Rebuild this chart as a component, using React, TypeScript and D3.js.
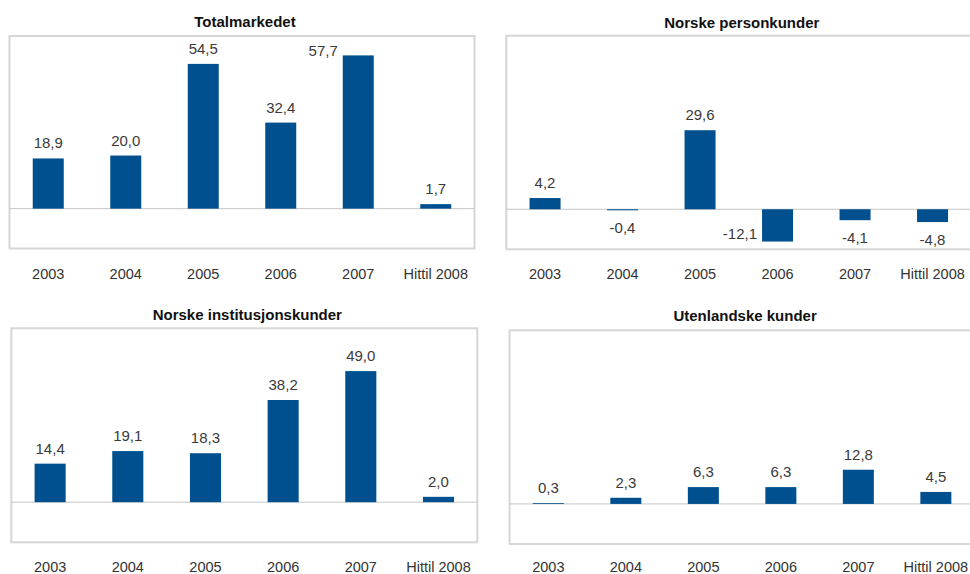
import React from "react";
import * as d3 from "d3";

const categories = ["2003", "2004", "2005", "2006", "2007", "Hittil 2008"];
const titles = ["Totalmarkedet", "Norske personkunder", "Norske institusjonskunder", "Utenlandske kunder"];
const totalmarkedet = [18.9, 20.0, 54.5, 32.4, 57.7, 1.7];
const personkunder = [4.2, -0.4, 29.6, -12.1, -4.1, -4.8];
const institusjonskunder = [14.4, 19.1, 18.3, 38.2, 49.0, 2.0];
const utenlandske = [0.3, 2.3, 6.3, 6.3, 12.8, 4.5];
const yDomain = [-15, 65];

const seriesList = [totalmarkedet, personkunder, institusjonskunder, utenlandske];

// panel layout boxes (plot frames)
const frames = [
  { left: 9.5, top: 36, width: 465, height: 212.5, titleY: 26.5 },
  { left: 506.3, top: 35.7, width: 465, height: 213.6, titleY: 27.5 },
  { left: 11.3, top: 328.3, width: 466, height: 214, titleY: 320 },
  { left: 509.6, top: 330.3, width: 465, height: 213.7, titleY: 321 },
];

const FONT = "'Liberation Sans', Arial, Helvetica, sans-serif";
const BAR = "#00508f";

const fmt = (v: number) => v.toFixed(1).replace(".", ",");

function Panel({ idx }: { idx: number }) {
  const f = frames[idx];
  const values = seriesList[idx];
  const x = d3
    .scaleBand<string>()
    .domain(categories)
    .range([f.left, f.left + f.width])
    .paddingInner(0.6)
    .paddingOuter(0.3);
  const y = d3.scaleLinear().domain(yDomain).range([f.top + f.height, f.top]);
  const y0 = y(0);
  const boxTop = f.top;
  const boxBottom = f.top + f.height;
  const catY = Math.min(boxBottom + 30, 572);

  return (
    <g>
      <text
        x={f.left + f.width / 2 + 3}
        y={f.titleY}
        textAnchor="middle"
        fontFamily={FONT}
        fontWeight="bold"
        fontSize={15}
        fill="#111"
      >
        {titles[idx]}
      </text>
      <rect
        x={f.left}
        y={f.top}
        width={f.width}
        height={f.height}
        fill="#fff"
        stroke="#d6d6d6"
        strokeWidth={2}
      />
      <line x1={f.left} x2={f.left + f.width} y1={y0} y2={y0} stroke="#c4c4c4" strokeWidth={1} />
      {values.map((v, i) => {
        const c = categories[i];
        const bx = x(c)!;
        const bw = x.bandwidth();
        const yv = y(v);
        const top = Math.min(yv, y0);
        const h = Math.abs(yv - y0);
        let lx = bx + bw / 2;
        let ly: number;
        let anchor = "middle";
        if (v >= 0) {
          ly = yv - 10;
          if (ly - 11 < boxTop + 4) {
            lx = bx - 5;
            ly = yv + 1;
            anchor = "end";
          }
        } else {
          ly = yv + 23;
          if (ly > boxBottom - 2) {
            lx = bx - 5;
            ly = yv - 3;
            anchor = "end";
          }
        }
        return (
          <g key={c}>
            <rect x={bx} y={top} width={bw} height={h} fill={BAR} />
            <text
              x={lx}
              y={ly}
              textAnchor={anchor}
              fontFamily={FONT}
              fontSize={15}
              fill="#3a3a3a"
            >
              {fmt(v)}
            </text>
            <text
              x={bx + bw / 2}
              y={catY}
              textAnchor="middle"
              fontFamily={FONT}
              fontSize={14.5}
              fill="#333"
            >
              {c}
            </text>
          </g>
        );
      })}
    </g>
  );
}

export default function App() {
  return (
    <svg
      width={970}
      height={574}
      style={{ position: "absolute", left: 0, top: 0, background: "#fff" }}
    >
      <rect x={0} y={0} width={970} height={574} fill="#fff" />
      {frames.map((_, i) => (
        <Panel key={i} idx={i} />
      ))}
    </svg>
  );
}
